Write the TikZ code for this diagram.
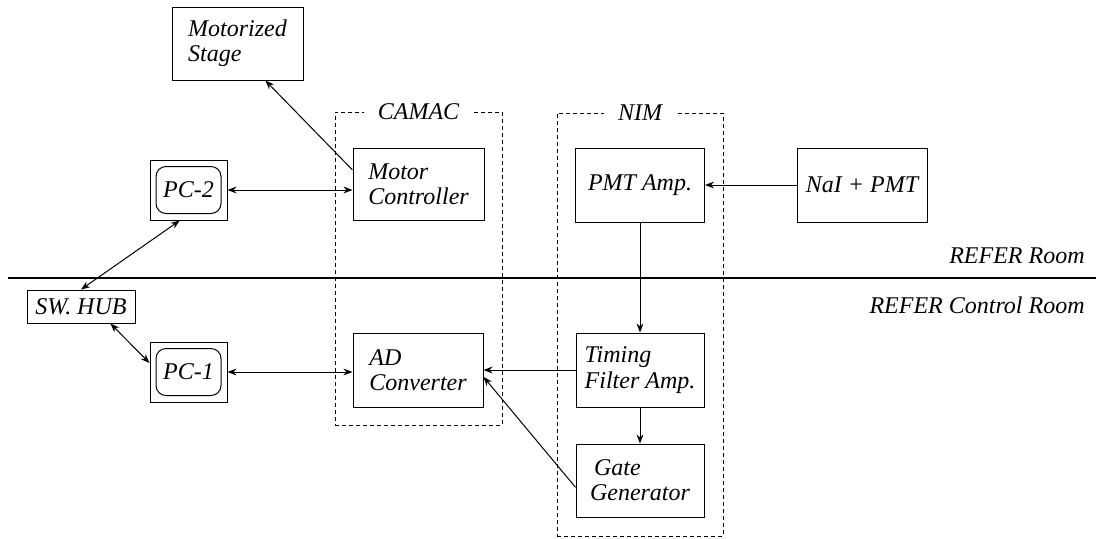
\documentclass[tikz,border=0pt]{standalone}
\usepackage{fontspec}
\setmainfont{Liberation Serif}[ItalicFont={Liberation Serif Italic}]
\usetikzlibrary{arrows.meta}

\begin{document}
\begin{tikzpicture}[x=0.5pt, y=-0.5pt, font=\fontsize{12}{12.6}\selectfont\itshape,
  box/.style={draw, line width=0.5pt, align=left, inner sep=0pt},
  pcbox/.style={draw, line width=0.5pt, minimum width=38.5pt, minimum height=30pt, inner sep=0pt},
  screen/.style={draw, line width=0.5pt, rounded corners=5pt, minimum width=32.5pt,
                 minimum height=23.5pt, inner sep=0pt},
  crate/.style={draw, line width=0.5pt, dash pattern=on 2pt off 1.5pt, inner sep=0pt},
  tag/.style={fill=white, inner xsep=7pt, inner ysep=1pt},
  arr/.style={-{Stealth[length=4.5pt,width=3.4pt]}, line width=0.5pt},
  darr/.style={{Stealth[length=4.5pt,width=3.4pt]}-{Stealth[length=4.5pt,width=3.4pt]}, line width=0.5pt},
]
\useasboundingbox (0,0) rectangle (1096,538);

% crates
\node[crate, minimum width=83.5pt, minimum height=156.5pt] (camac) at (418.5, 268.5) {};
\node[crate, minimum width=83pt, minimum height=211.5pt] (nim) at (640, 324.5) {};
\node[tag] (camactag) at (camac.north) {CAMAC};
\node[tag] (nimtag) at (nim.north) {NIM};

% room divider
\coordinate (divl) at (8, 278);
\coordinate (divr) at (1096, 278);
\draw[line width=1pt] (divl) -- (divr);
\node[anchor=east, inner xsep=0pt] (room) at (1085, 256) {REFER Room};
\node[anchor=east, inner xsep=0pt] (ctrl) at (1085, 305) {REFER Control Room};

% boxes
\node[box, minimum width=65.5pt, minimum height=36.5pt] (stage) at (237.5, 43.5) {Motorized\\Stage};
\node[box, minimum width=65.5pt, minimum height=36pt] (motor) at (418.5, 184) {Motor\\Controller};
\node[box, minimum width=65pt, minimum height=37pt] (adc) at (418, 370) {AD\\Converter};
\node[box, minimum width=64.5pt, minimum height=37pt] (pmt) at (640, 185) {PMT Amp.};
\node[box, minimum width=65pt, minimum height=37pt] (nai) at (862, 185) {NaI + PMT};
\node[box, minimum width=64pt, minimum height=37pt] (tfa) at (640, 370) {Timing\\Filter Amp.};
\node[box, minimum width=64pt, minimum height=36.5pt] (gate) at (640, 480.5) {\,Gate\\Generator};
\node[box, minimum width=54pt, minimum height=16.5pt] (hub) at (81, 306.5) {SW. HUB};

\node[pcbox] (pc2) at (188.5, 190) {};
\node[screen] (pc2s) at (pc2.center) {PC-2};
\node[pcbox] (pc1) at (188.5, 372) {};
\node[screen] (pc1s) at (pc1.center) {PC-1};

% links
\draw[arr] (motor.168) -- (stage.307);
\draw[darr] (pc2.east) -- (pc2.east -| motor.west);
\draw[darr] (pc2.254) -- (hub.north);
\draw[darr] (hub.-30) -- (pc1.167);
\draw[darr] (pc1.east) -- (pc1.east -| adc.west);
\draw[arr] (nai) -- (pmt);
\draw[arr] (pmt) -- (tfa);
\draw[arr] (tfa) -- (adc);
\draw[arr] (tfa) -- (gate);
\draw[arr] (gate.186) -- (adc.-6);
\end{tikzpicture}
\end{document}
